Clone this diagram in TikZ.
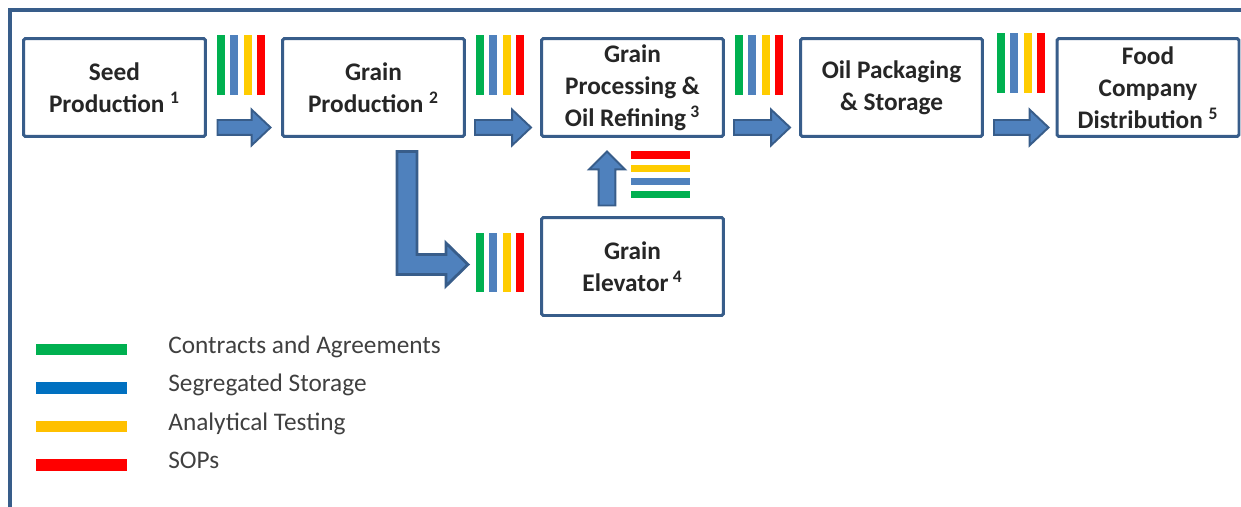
\documentclass[tikz,border=0pt]{standalone}
\usepackage{fontspec}
\setmainfont{Carlito}
\usetikzlibrary{calc}
\definecolor{borde}{HTML}{385D8A}
\definecolor{relleno}{HTML}{4F81BD}
\definecolor{verde}{HTML}{00B050}
\definecolor{azul}{HTML}{4F81BD}
\definecolor{azulleyenda}{HTML}{0070C0}
\definecolor{amarillo}{HTML}{FFCC00}
\definecolor{amarilloleyenda}{HTML}{FFC000}
\definecolor{rojo}{HTML}{FF0000}
\definecolor{texto}{HTML}{262626}
\definecolor{textoleyenda}{HTML}{404040}
\newcommand{\letra}{\fontsize{14.4}{18.3}\selectfont}
\tikzset{
	etapa/.style={draw=borde, line width=1.7pt, fill=white, rounded corners=1pt,
		minimum width=3.64cm, minimum height=1.96cm, align=center, inner sep=1pt,
		text=texto, font=\letra\bfseries},
	flecha/.style={draw=borde, fill=relleno, line width=1.1pt, line join=miter},
	leyenda/.style={anchor=base west, inner sep=0pt, text=textoleyenda},
}
% Flecha horizontal de #1 a #2
\newcommand{\flechah}[2]{%
	\draw[flecha] let \p1=(#1), \p2=(#2) in
		(\x1,\y1-4.25pt) -- (\x2-10.8pt,\y1-4.25pt) -- (\x2-10.8pt,\y1-10.2pt) -- (\x2,\y1)
		-- (\x2-10.8pt,\y1+10.2pt) -- (\x2-10.8pt,\y1+4.25pt) -- (\x1,\y1+4.25pt) -- cycle;}
% Barras verticales (verde, azul, amarillo, rojo)
\newcommand{\barrasv}[3]{%
	\foreach \c [count=\i from 0] in {verde,azul,amarillo,rojo}
		\draw[\c, line width=4.6pt] (#1+4+13.3*\i,#2) -- (#1+4+13.3*\i,#3);}
\begin{document}
\begin{tikzpicture}[x=0.02cm, y=-0.02cm, font=\letra]
	\useasboundingbox (0,0) rectangle (1241,507);
	% Marco exterior
	\draw[borde, line width=2.2pt] (10,530) -- (10,10) -- (1260,10);
	% Etapas de la cadena
	\node[etapa] (semilla) at (114.5,87.5) {Seed\\Production \textsuperscript{1}};
	\node[etapa] (grano) at (373.5,87.5) {Grain\\Production \textsuperscript{2}};
	\node[etapa] (proceso) at (632.5,87.5) {Grain\\Processing \&\\Oil Refining\,\textsuperscript{3}};
	\node[etapa] (envasado) at (891.5,87.5) {Oil Packaging\\\& Storage};
	\node[etapa] (empresa) at (1148,87.5) {Food\\Company\\Distribution \textsuperscript{5}};
	\node[etapa] (silo) at (632.5,266.5) {Grain\\Elevator\,\textsuperscript{4}};
	% Barras de control entre etapas
	\barrasv{217}{35}{95}
	\barrasv{476}{35}{95}
	\barrasv{735}{35}{95}
	\barrasv{997}{33}{93}
	\barrasv{476}{233}{292}
	\coordinate (barrassilo) at (468,264.5);
	% Barras horizontales sobre el silo
	\foreach \c [count=\i from 0] in {rojo,amarillo,azul,verde}
		\draw[\c, line width=4pt] (631,155+13.3*\i) -- (690,155+13.3*\i);
	% Flechas entre etapas
	\flechah{[shift={(10.5,-10.5)}]semilla.south east}{[shift={(-10.5,-10.5)}]grano.south west}
	\flechah{[shift={(9,-10.5)}]grano.south east}{[shift={(-9,-10.5)}]proceso.south west}
	\flechah{[shift={(9,-10.5)}]proceso.south east}{[shift={(-9,-10.5)}]envasado.south west}
	\flechah{[shift={(10,-10.5)}]envasado.south east}{[shift={(-7,-10.5)}]empresa.south west}
	% Flecha del silo al procesado
	\draw[flecha] let \p1=([shift={(-25.5,-10.5)}]silo.north), \p2=([shift={(-25.5,13.5)}]proceso.south) in
		(\x1-4.8pt,\y1) -- (\x1-4.8pt,\y2-10.2pt) -- (\x1-10.2pt,\y2-10.2pt) -- (\x1,\y2)
		-- (\x1+10.2pt,\y2-10.2pt) -- (\x1+4.8pt,\y2-10.2pt) -- (\x1+4.8pt,\y1) -- cycle;
	% Flecha en L de la producción al silo
	\draw[flecha, line width=1.6pt] let \p1=([shift={(33.5,13.5)}]grano.south), \p2=(barrassilo) in
		(\x1-5.67pt,\y1) -- (\x1-5.67pt,\y2-5.67pt) -- (\x2-12.5pt,\y2-5.67pt) -- (\x2-12.5pt,\y2-12.2pt)
		-- (\x2,\y2) -- (\x2-12.5pt,\y2+12.2pt) -- (\x2-12.5pt,\y2+5.67pt) -- (\x1+5.67pt,\y2+5.67pt)
		-- (\x1+5.67pt,\y1) -- cycle;
	% Leyenda
	\foreach \c/\t [count=\i from 0] in {verde/Contracts and Agreements,
			azulleyenda/Segregated Storage, amarilloleyenda/Analytical Testing, rojo/SOPs} {
		\draw[\c, line width=6.8pt] (36,349.5+38.5*\i) -- (127,349.5+38.5*\i);
		\node[leyenda] (leyenda\i) at (168,353.3+38.5*\i) {\t};
	}
\end{tikzpicture}
\end{document}
